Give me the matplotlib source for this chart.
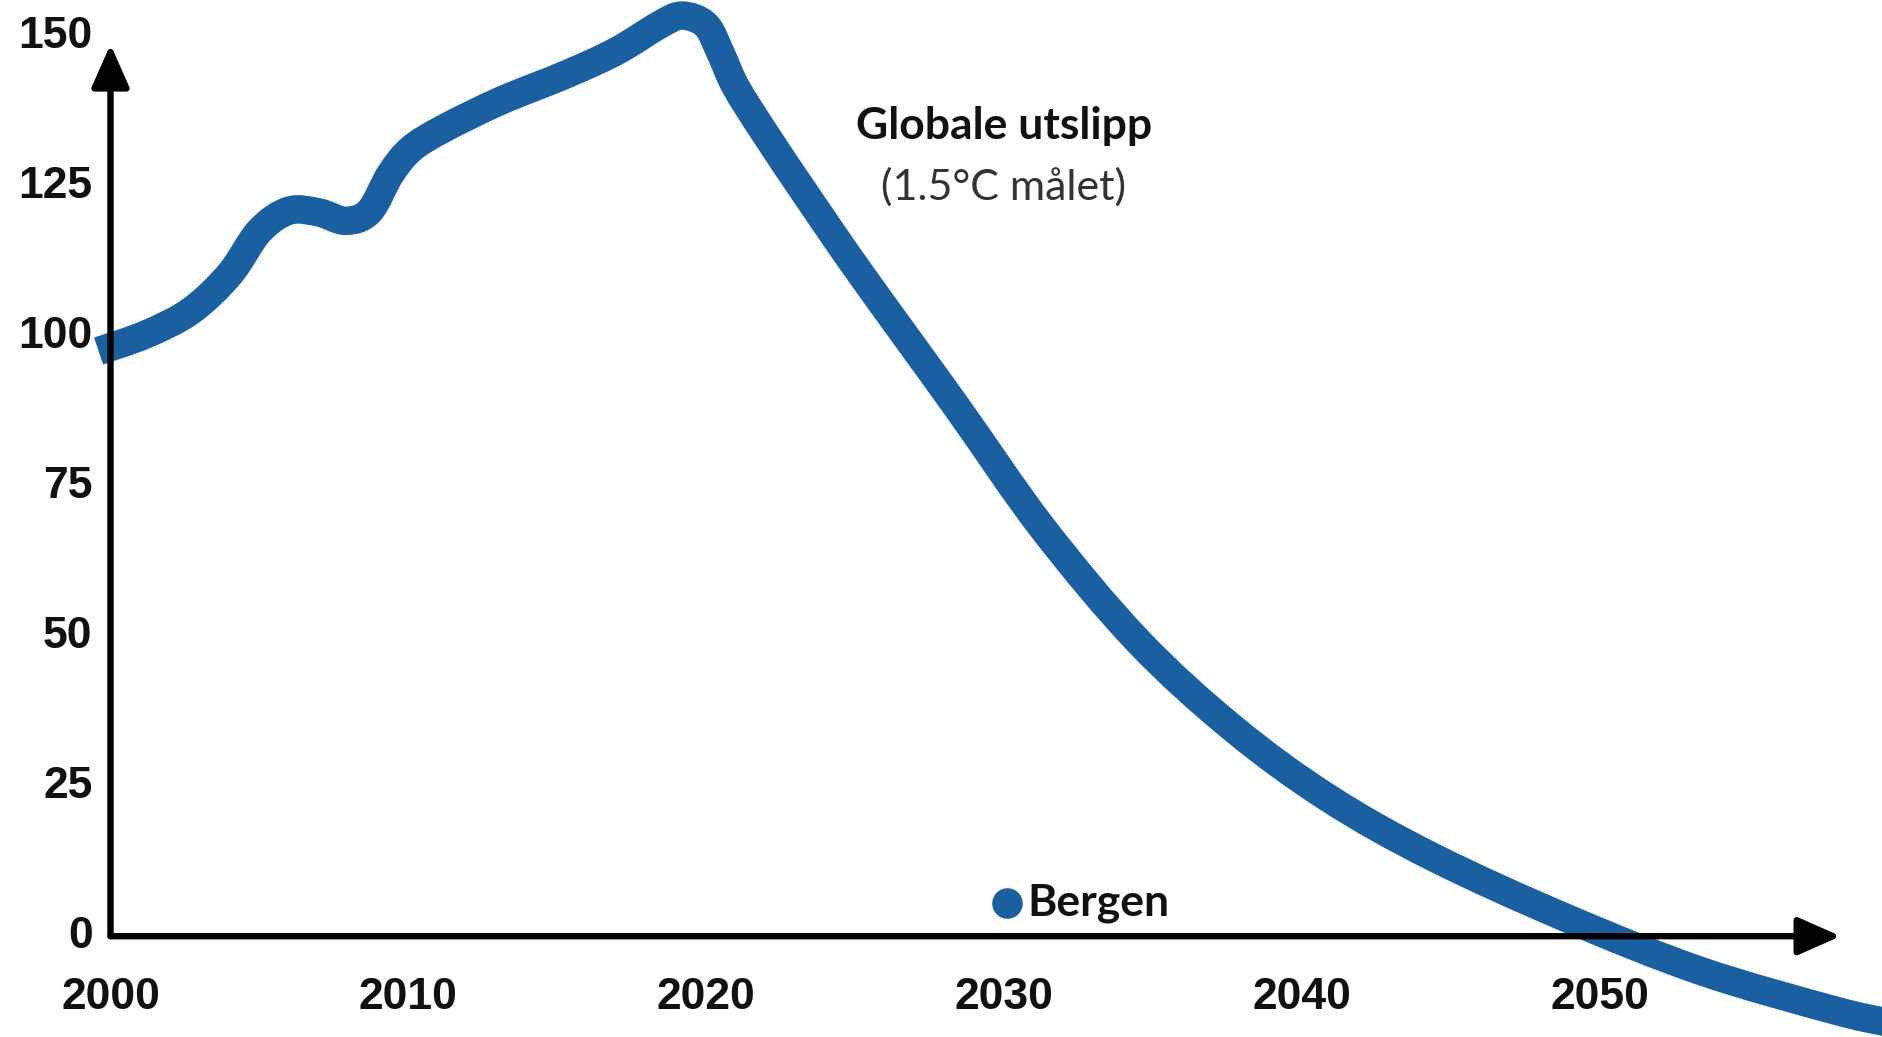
import matplotlib
matplotlib.use("Agg")
import matplotlib.pyplot as plt
from matplotlib.path import Path
from matplotlib.patches import PathPatch

# global emissions path (index, 2000 ~ 100)
years = [1999.6, 2001.2, 2002.7, 2004.0, 2005.0, 2006.0, 2007.0, 2007.9, 2008.7,
         2009.4, 2010.1, 2011.2, 2013.1, 2015.3, 2017.0, 2018.45, 2019.2, 2020.0,
         2020.5, 2021.0, 2022.0, 2023.5, 2025.2, 2028.4, 2031.3, 2034.5,
         2037.7, 2040.9, 2044.4, 2048.9, 2053.4, 2057.85, 2059.6]
emissions = [97.5, 100.3, 104.2, 110.3, 117.5, 120.9, 120.6, 119.2, 120.8,
             127, 131.2, 134.6, 139.2, 143.6, 147.5, 151.9, 153.4, 151.8,
             147, 141.5, 133.6, 122.5, 110.3, 88.3, 68.0, 49.2,
             34.6, 23.0, 13.2, 3.0, -5.8, -12.3, -14.3]

x_ticks = [2000, 2010, 2020, 2030, 2040, 2050]
y_ticks = [0, 25, 50, 75, 100, 125, 150]

bergen_year = 2030.1
bergen_value = 5.6

BLUE = "#1a60a0"
num_font = ["Liberation Sans Narrow", "Liberation Sans", "DejaVu Sans"]
title_font = ["Lato", "DejaVu Sans"]


def smooth_path(xs, ys):
    # Catmull-Rom through the read points, drawn as cubic Bezier segments
    pts = list(zip(xs, ys))
    verts = [pts[0]]
    codes = [Path.MOVETO]
    for i in range(len(pts) - 1):
        p0 = pts[i - 1] if i > 0 else pts[i]
        p1, p2 = pts[i], pts[i + 1]
        p3 = pts[i + 2] if i + 2 < len(pts) else p2
        c1 = (p1[0] + (p2[0] - p0[0]) / 6, p1[1] + (p2[1] - p0[1]) / 6)
        c2 = (p2[0] - (p3[0] - p1[0]) / 6, p2[1] - (p3[1] - p1[1]) / 6)
        verts += [c1, c2, p2]
        codes += [Path.CURVE4] * 3
    return Path(verts, codes)


fig = plt.figure(figsize=(18.83, 10.37), dpi=100)
ax = fig.add_axes([0, 0, 1, 1])
ax.set_xlim(1996.29, 2059.52)
ax.set_ylim(-16.8, 156)
ax.axis("off")

ax.add_patch(PathPatch(smooth_path(years, emissions), fill=False, edgecolor=BLUE,
                       lw=20.5, capstyle="butt", joinstyle="round", zorder=2))

# axes drawn as arrows
arrow = dict(arrowstyle="-|>,head_length=2.6,head_width=1.15", color="black",
             lw=4.6, shrinkA=0, shrinkB=0)
ax.annotate("", xy=(2058.1, 0), xytext=(2000, 0), arrowprops=arrow, zorder=3)
ax.annotate("", xy=(2000, 148.6), xytext=(2000, 0), arrowprops=arrow, zorder=3)

for v in y_ticks:
    ax.text(1999.4, v, str(v), ha="right", va="center", fontsize=32,
            fontweight="bold", family=num_font, color="#111111")
for yr in x_ticks:
    ax.text(yr, -10.2, str(yr), ha="center", va="center", fontsize=32,
            fontweight="bold", family=num_font, color="#111111")

ax.text(2030, 135, "Globale utslipp", ha="center", va="center", fontsize=32,
        fontweight="bold", family=title_font, color="#111111")
ax.text(2030, 124.8, "(1.5°C målet)", ha="center", va="center", fontsize=31,
        fontweight="normal", family=title_font, color="#333333")

ax.plot([bergen_year], [bergen_value], "o", color=BLUE, markersize=21, zorder=4)
ax.text(bergen_year + 0.7, bergen_value, "Bergen", ha="left", va="center",
        fontsize=32, fontweight="bold", family=title_font, color="#111111")

fig.savefig("out.png", dpi=100)
